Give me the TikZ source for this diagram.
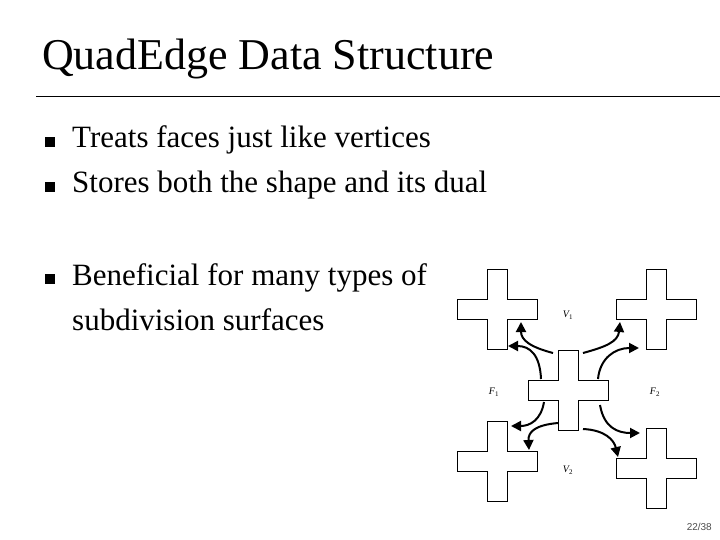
\documentclass[tikz,border=0pt]{standalone}
\usepackage{fontspec}
\usetikzlibrary{arrows.meta}
\setmainfont{Liberation Serif}
\newfontfamily\pnfont{Liberation Sans}
\begin{document}
\begin{tikzpicture}[x=1pt,y=-1pt,
  crossp/.pic={\draw[line width=0.8pt,fill=white] (-10,-40)--(10,-40)--(10,-10)--(40,-10)--(40,10)--(10,10)--(10,40)--(-10,40)--(-10,10)--(-40,10)--(-40,-10)--(-10,-10)--cycle;},
  arr/.style={-{Triangle[length=10pt,width=10pt]},line width=2pt},
  body/.style={anchor=base west,inner sep=0,font=\fontsize{31}{34}\selectfont},
  bul/.style={fill=black,minimum size=10pt,inner sep=0},
  lab/.style={font=\fontsize{10}{12}\selectfont\itshape}]
\useasboundingbox (0,0) rectangle (720,540);
\node[anchor=base west,inner sep=0,font=\fontsize{44}{48}\selectfont] (title) at (42,70) {QuadEdge Data Structure};
\draw[line width=0.8pt] (36,96) -- (720,96);
\node[bul] (b1) at (50,142) {};
\node[body] (t1) at (72,148) {Treats faces just like vertices};
\node[bul] (b2) at (50,187) {};
\node[body] (t2) at (72,193) {Stores both the shape and its dual};
\node[bul] (b3) at (50,279) {};
\node[body] (t3) at (72,285) {Beneficial for many types of};
\node[body] (t4) at (72,330) {subdivision surfaces};
\pic at (497.5,309.5) {crossp};
\pic at (656,309.5) {crossp};
\pic at (497.5,461) {crossp};
\pic at (656,468) {crossp};
\coordinate (s1) at (553,353); \coordinate (e1) at (521,322);
\coordinate (s2) at (541,379); \coordinate (e2) at (508,346);
\coordinate (s3) at (583,353); \coordinate (e3) at (620,322);
\coordinate (s4) at (598,379); \coordinate (e4) at (639,348);
\coordinate (s5) at (544,402); \coordinate (e5) at (511,426);
\coordinate (s6) at (558,423); \coordinate (e6) at (529,450);
\coordinate (s7) at (600,405); \coordinate (e7) at (640,433);
\coordinate (s8) at (583,429); \coordinate (e8) at (618,457);
\draw[arr] (s1) .. controls (530,347) and (521,340) .. (e1);
\draw[arr] (s2) .. controls (540,355) and (530,346) .. (e2);
\draw[arr] (s3) .. controls (605,347) and (618,342) .. (e3);
\draw[arr] (s4) .. controls (600,358) and (615,348) .. (e4);
\draw[arr] (s5) .. controls (541,420) and (530,426) .. (e5);
\draw[arr] (s6) .. controls (535,425) and (528,432) .. (e6);
\draw[arr] (s7) .. controls (604,428) and (618,433) .. (e7);
\draw[arr] (s8) .. controls (605,430) and (614,440) .. (e8);
\pic at (568.5,390.5) {crossp};
\node[lab] (v1) at (568,315) {V\textsubscript{\upshape 1}};
\node[lab] (f1) at (494,392) {F\textsubscript{\upshape 1}};
\node[lab] (f2) at (655,392) {F\textsubscript{\upshape 2}};
\node[lab] (v2) at (568,470) {V\textsubscript{\upshape 2}};
\node[anchor=base east,inner sep=0,font=\pnfont\fontsize{10}{12}\selectfont,text=black!70] (pn) at (712,530) {22/38};
\end{tikzpicture}
\end{document}
